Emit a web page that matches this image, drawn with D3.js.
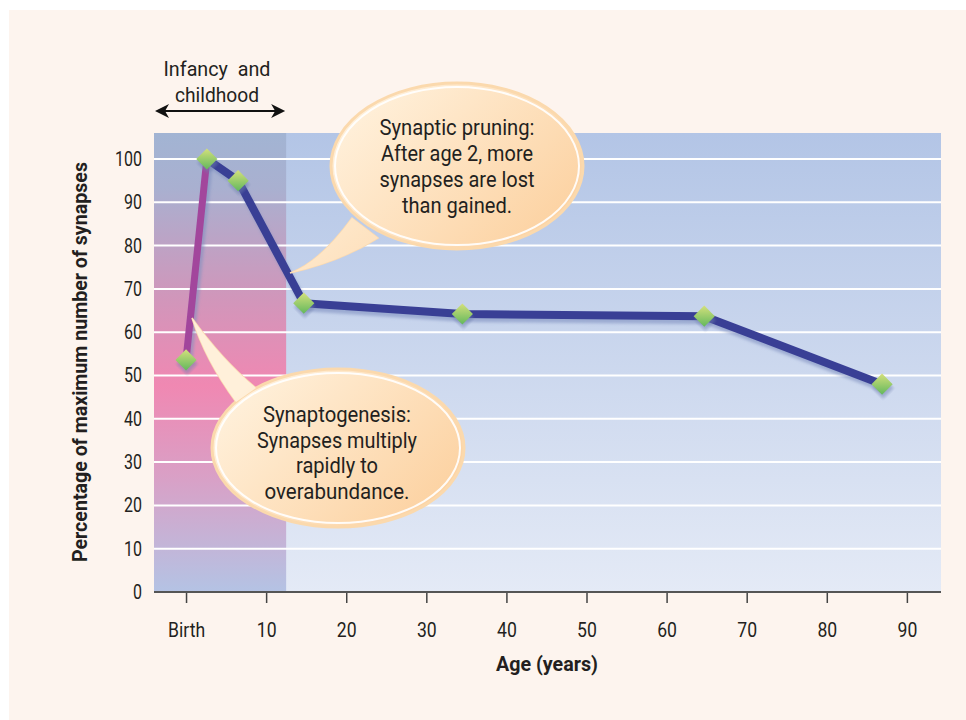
<!DOCTYPE html>
<html><head><meta charset="utf-8">
<script src="https://cdn.jsdelivr.net/npm/d3@7/dist/d3.min.js"></script>
<style>
html,body{margin:0;padding:0;background:#fff;}
svg text{font-family:Roboto,"Liberation Sans",sans-serif;fill:#231f20;}
</style></head>
<body>
<svg id="c" width="966" height="720"></svg>
<script>
// ---- data ----
const ages = [0, 2.6, 6.5, 14.7, 34.5, 64.7, 86.9];
const percents = [53.6, 100, 95, 66.7, 64.2, 63.7, 48.0];
const yTicks = [0,10,20,30,40,50,60,70,80,90,100];
const xTicks = [0,10,20,30,40,50,60,70,80,90];
const xTickLabels = ["Birth","10","20","30","40","50","60","70","80","90"];
const infancyEnd = 12.5;
const pruningText = ["Synaptic pruning:","After age 2, more","synapses are lost","than gained."];
const genesisText = ["Synaptogenesis:","Synapses multiply","rapidly to","overabundance."];

const svg = d3.select("#c");
const L=154,R=941,T=133,B=592;
const x = d3.scaleLinear().domain([-4.0, 94.26]).range([L,R]);
const y = d3.scaleLinear().domain([0,100]).range([B,159]);

// horizontally condense text to mimic a narrow typeface
function condense(sel, f){
  sel.each(function(){
    const w = this.getComputedTextLength();
    d3.select(this).attr("textLength", w*f).attr("lengthAdjust","spacingAndGlyphs");
  });
  return sel;
}

const defs = svg.append("defs");
const g1 = defs.append("linearGradient").attr("id","plotbg").attr("x1",0).attr("y1",0).attr("x2",0).attr("y2",1);
g1.append("stop").attr("offset","0%").attr("stop-color","#b3c5e6");
g1.append("stop").attr("offset","100%").attr("stop-color","#e4eaf6");
const g2 = defs.append("linearGradient").attr("id","infbg").attr("x1",0).attr("y1",0).attr("x2",0).attr("y2",1);
[[0,"#a2b4d3"],[0.12,"#a9b0d0"],[0.35,"#cf97bb"],[0.55,"#f088b2"],[0.75,"#d9a0c6"],[1,"#b4c3e4"]].forEach(s=>g2.append("stop").attr("offset",s[0]).attr("stop-color",s[1]));
const gd = defs.append("linearGradient").attr("id","dia").attr("x1",0).attr("y1",0).attr("x2",1).attr("y2",1);
gd.append("stop").attr("offset","0%").attr("stop-color","#d4e07c");
gd.append("stop").attr("offset","100%").attr("stop-color","#62b85c");
defs.append("filter").attr("id","blur").append("feGaussianBlur").attr("stdDeviation",1.5);

// page background
svg.append("rect").attr("x",9).attr("y",10).attr("width",957).attr("height",710).attr("fill","#fdf4ee");

// plot backgrounds
svg.append("rect").attr("x",L).attr("y",T).attr("width",R-L).attr("height",B-T).attr("fill","url(#plotbg)");
svg.append("rect").attr("x",L).attr("y",T).attr("width",x(infancyEnd)-L).attr("height",B-T).attr("fill","url(#infbg)");

// gridlines
svg.append("g").selectAll("line").data(yTicks.filter(d=>d>0)).join("line")
  .attr("x1",L).attr("x2",R).attr("y1",d=>y(d)).attr("y2",d=>y(d))
  .attr("stroke","#fff").attr("stroke-width",2);

// x axis
const xAxis = d3.axisBottom(x).tickValues(xTicks).tickSize(11).tickPadding(20)
  .tickFormat((d,i)=>xTickLabels[i]);
const xg = svg.append("g").attr("transform",`translate(0,${B})`).call(xAxis);
xg.select(".domain").remove();
xg.selectAll(".tick line").attr("stroke","#444").attr("stroke-width",1.5);
xg.selectAll(".tick text").attr("font-size",20).attr("fill","#231f20").style("font-family","Roboto,sans-serif");
condense(xg.selectAll(".tick text"),0.88);
svg.append("line").attr("x1",L).attr("x2",R).attr("y1",B).attr("y2",B).attr("stroke","#555").attr("stroke-width",2);

// y axis labels
const yAxis = d3.axisLeft(y).tickValues(yTicks).tickSize(0).tickPadding(12);
const yg = svg.append("g").attr("transform",`translate(${L},0)`).call(yAxis);
yg.select(".domain").remove();
yg.selectAll(".tick text").attr("font-size",20).attr("fill","#231f20").style("font-family","Roboto,sans-serif");
condense(yg.selectAll(".tick text"),0.8);

// axis titles
const yt = svg.append("text").attr("transform","translate(87,362) rotate(-90)").attr("text-anchor","middle")
  .attr("font-size",20).attr("font-weight","bold").text("Percentage of maximum number of synapses");
yt.attr("textLength",400).attr("lengthAdjust","spacingAndGlyphs");
svg.append("text").attr("x",547).attr("y",671).attr("text-anchor","middle")
  .attr("font-size",20).attr("font-weight","bold").text("Age (years)")
  .attr("textLength",102).attr("lengthAdjust","spacingAndGlyphs");

// infancy label + arrow
svg.append("text").attr("x",217).attr("y",76).attr("text-anchor","middle").attr("font-size",21).attr("xml:space","preserve").text("Infancy  and")
  .attr("textLength",107).attr("lengthAdjust","spacingAndGlyphs");
svg.append("text").attr("x",217).attr("y",102).attr("text-anchor","middle").attr("font-size",21).text("childhood")
  .attr("textLength",84).attr("lengthAdjust","spacingAndGlyphs");
const ay=111, ax1=x(-4)+1, ax2=x(infancyEnd)-1;
svg.append("line").attr("x1",ax1+6).attr("x2",ax2-6).attr("y1",ay).attr("y2",ay).attr("stroke","#111").attr("stroke-width",2.2);
svg.append("path").attr("d",`M${ax1},${ay} L${ax1+14},${ay-7} L${ax1+10},${ay} L${ax1+14},${ay+7}Z`).attr("fill","#111");
svg.append("path").attr("d",`M${ax2},${ay} L${ax2-14},${ay-7} L${ax2-10},${ay} L${ax2-14},${ay+7}Z`).attr("fill","#111");

// line shadow
const pts = ages.map((a,i)=>[x(a),y(percents[i])]);
const lineGen = d3.line();
svg.append("path").attr("d",lineGen(pts)).attr("fill","none").attr("stroke","#7f8fbf").attr("stroke-opacity",0.6)
  .attr("stroke-width",8).attr("stroke-linejoin","round").attr("transform","translate(2,4)").attr("filter","url(#blur)");
svg.append("path").attr("d",lineGen(pts.slice(1))).attr("fill","none").attr("stroke","#393f95")
  .attr("stroke-width",8).attr("stroke-linejoin","round");
svg.append("path").attr("d",lineGen(pts.slice(0,2))).attr("fill","none").attr("stroke","#a2469c")
  .attr("stroke-width",7);

// markers
const mk = svg.append("g");
mk.selectAll(".sh").data(pts).join("rect").attr("x",-7.5).attr("y",-7.5).attr("width",15).attr("height",15)
  .attr("fill","#6f7fae").attr("opacity",0.5).attr("filter","url(#blur)")
  .attr("transform",d=>`translate(${d[0]+1},${d[1]+4}) rotate(45)`);
mk.selectAll(".dm").data(pts).join("rect").attr("x",-7.5).attr("y",-7.5).attr("width",15).attr("height",15)
  .attr("fill","url(#dia)")
  .attr("transform",d=>`translate(${d[0]},${d[1]}) rotate(45)`);

// bubbles
function bubble(cx,cy,rx,ry,tail,lines,widths,tx,ty0,dy){
  const gg = svg.append("g");
  const gid = "bg"+Math.round(cx);
  const gr = defs.append("linearGradient").attr("id",gid).attr("gradientUnits","userSpaceOnUse")
    .attr("x1",cx-rx*0.6).attr("y1",cy-ry).attr("x2",cx+rx*0.7).attr("y2",cy+ry);
  gr.append("stop").attr("offset","0%").attr("stop-color","#fff0da");
  gr.append("stop").attr("offset","100%").attr("stop-color","#fcd1a0");
  gg.append("path").attr("d",tail).attr("fill",`url(#${gid})`).attr("stroke","#fbdab0").attr("stroke-width",1.5);
  gg.append("ellipse").attr("cx",cx).attr("cy",cy).attr("rx",rx).attr("ry",ry).attr("fill",`url(#${gid})`).attr("stroke","#fbd9ad").attr("stroke-width",3);
  gg.append("ellipse").attr("cx",cx).attr("cy",cy).attr("rx",rx-4).attr("ry",ry-4).attr("fill","none").attr("stroke","#fff").attr("stroke-width",2).attr("opacity",0.9);
  gg.append("path").attr("d",tail).attr("fill",`url(#${gid})`);
  lines.forEach((t,i)=>gg.append("text").attr("x",tx).attr("y",ty0+i*dy).attr("text-anchor","middle").attr("font-size",22).text(t)
    .attr("textLength",widths[i]).attr("lengthAdjust","spacingAndGlyphs"));
}
bubble(457,166,126,83,"M352,218 Q320,262 290,273 Q340,262 378,238 Z",pruningText,[155,152,155,110],457,135,26);
bubble(338,448,126,79,"M236,402 Q205,360 192,318 Q222,360 256,388 Z",genesisText,[148,160,82,145],337,422,25.5);
</script>
</body></html>
